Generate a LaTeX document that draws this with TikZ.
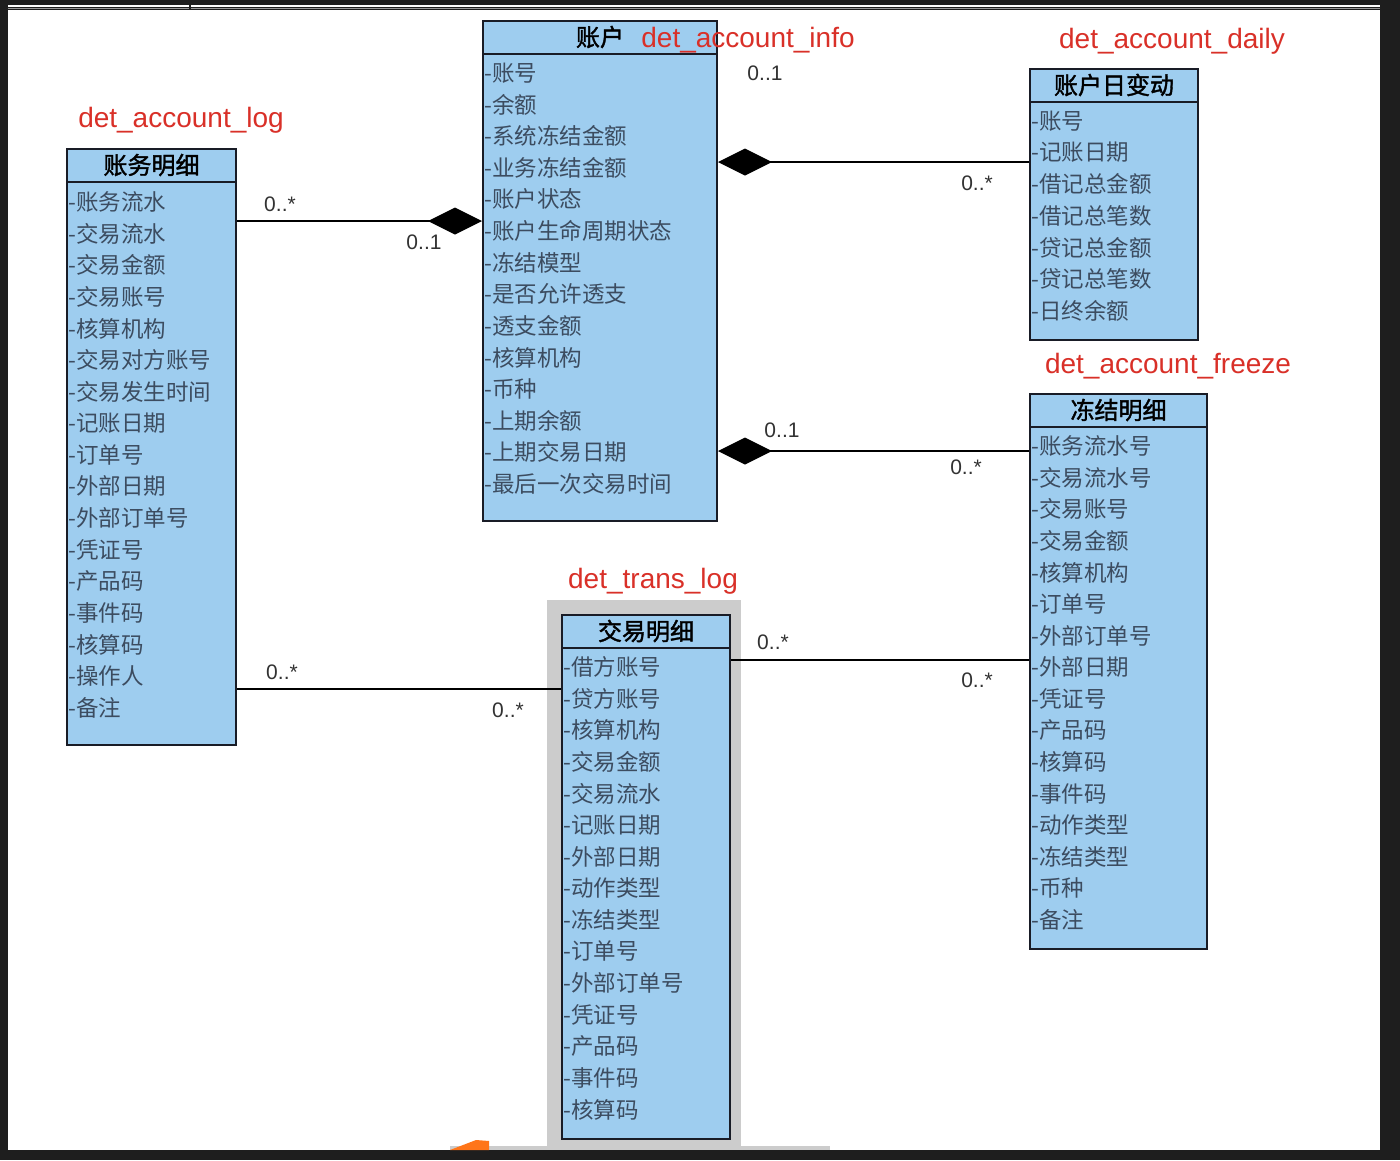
\documentclass[tikz,border=0pt]{standalone}
\usepackage{fontspec}
\setmainfont{Liberation Sans}
\newfontfamily\cjk{Noto Sans CJK SC}
\newfontfamily\cjkbold{Noto Sans CJK SC}[FakeBold=1.6]
\usetikzlibrary{arrows.meta,positioning}
\definecolor{umlfill}{RGB}{158,205,239}
\definecolor{umlline}{RGB}{25,28,38}
\definecolor{attrtext}{RGB}{60,76,96}
\definecolor{tabred}{RGB}{217,48,40}
\definecolor{multgray}{RGB}{50,50,50}
\definecolor{framedark}{RGB}{30,30,30}
\definecolor{shadowgray}{RGB}{204,204,204}
\tikzset{
  classbox/.style={draw=umlline, line width=2pt, fill=umlfill, anchor=north west, inner sep=0pt},
  classline/.style={draw=umlline, line width=2pt},
  classhead/.style={font=\cjkbold\fontsize{24}{24}\selectfont, text=black, inner sep=0pt},
  attr/.style={anchor=west, inner sep=0pt, font=\cjk\fontsize{22.5}{22.5}\selectfont, text=attrtext},
  tablename/.style={font=\fontsize{28}{28}\selectfont, text=tabred, inner sep=0pt},
  mult/.style={font=\fontsize{21}{21}\selectfont, text=multgray, inner sep=0pt},
  assoc/.style={draw=black, line width=1.5pt},
  compo/.style={assoc, {Diamond[length=54pt,width=27pt]}-}
}

\begin{document}
\begin{tikzpicture}[x=1pt,y=-1pt]
% screen frame
\fill[framedark] (0,0) rectangle (1400,1160);
\fill[white] (8,10) rectangle (1380,1150);
\draw[white, line width=1.5pt] (8,6) -- (1380,6);
\draw[gray!80, line width=1.5pt] (8,8.5) -- (1380,8.5);
\draw[framedark, line width=1.5pt] (190,4) -- (190,9);
\useasboundingbox (0,0) rectangle (1400,1160);

% classes
\node[classbox, minimum width=169pt, minimum height=596pt] (log) at (66,148) {};
\node[classbox, minimum width=234pt, minimum height=500pt] (info) at (482,20) {};
\node[classbox, minimum width=168pt, minimum height=271pt] (daily) at (1029,68) {};
\node[classbox, minimum width=177pt, minimum height=555pt] (freeze) at (1029,393) {};
\fill[shadowgray] (547,600) rectangle (741,1150);
\fill[shadowgray] (450,1146) rectangle (830,1150);
\fill[orange!80!red!90] (450,1150) -- (476,1140) -- (489,1141) -- (489,1150) -- cycle;
\node[classbox, minimum width=168pt, minimum height=524pt] (trans) at (561,614) {};

% headers
\foreach \c/\h in {log/账务明细, info/账户, daily/账户日变动, freeze/冻结明细, trans/交易明细} {
  \node[classhead] (\c-head) at ([yshift=-17pt]\c.north) {\h};
  \draw[classline] ([yshift=-34pt]\c.north west) -- ([yshift=-34pt]\c.north east);
}

% attributes
\foreach \f [count=\i from 0] in {账务流水,交易流水,交易金额,交易账号,核算机构,交易对方账号,交易发生时间,记账日期,订单号,外部日期,外部订单号,凭证号,产品码,事件码,核算码,操作人,备注}
  \node[attr] (log-\i) at ([xshift=2pt,yshift={-(54+31.6*\i)}]log.north west) {-\f};
\foreach \f [count=\i from 0] in {账号,余额,系统冻结金额,业务冻结金额,账户状态,账户生命周期状态,冻结模型,是否允许透支,透支金额,核算机构,币种,上期余额,上期交易日期,最后一次交易时间}
  \node[attr] (info-\i) at ([xshift=2pt,yshift={-(53+31.6*\i)}]info.north west) {-\f};
\foreach \f [count=\i from 0] in {账号,记账日期,借记总金额,借记总笔数,贷记总金额,贷记总笔数,日终余额}
  \node[attr] (daily-\i) at ([xshift=2pt,yshift={-(53+31.6*\i)}]daily.north west) {-\f};
\foreach \f [count=\i from 0] in {账务流水号,交易流水号,交易账号,交易金额,核算机构,订单号,外部订单号,外部日期,凭证号,产品码,核算码,事件码,动作类型,冻结类型,币种,备注}
  \node[attr] (freeze-\i) at ([xshift=2pt,yshift={-(53+31.6*\i)}]freeze.north west) {-\f};
\foreach \f [count=\i from 0] in {借方账号,贷方账号,核算机构,交易金额,交易流水,记账日期,外部日期,动作类型,冻结类型,订单号,外部订单号,凭证号,产品码,事件码,核算码}
  \node[attr] (trans-\i) at ([xshift=2pt,yshift={-(53+31.6*\i)}]trans.north west) {-\f};

% table names
\node[tablename] (log-name) at (181,120) {det\_account\_log};
\node[tablename] (info-name) at (748,40) {det\_account\_info};
\node[tablename] (daily-name) at (1172,41) {det\_account\_daily};
\node[tablename] (freeze-name) at (1168,366) {det\_account\_freeze};
\node[tablename] (trans-name) at (653,581) {det\_trans\_log};

% associations
\draw[compo] ([yshift=-201pt]info.north west) -- ([yshift=-73pt]log.north east);
\draw[compo] ([yshift=-142pt]info.north east) -- ([yshift=-94pt]daily.north west);
\draw[compo] ([yshift=-431pt]info.north east) -- ([yshift=-58pt]freeze.north west);
\draw[assoc] ([yshift=-541pt]log.north east) -- ([yshift=-75pt]trans.north west);
\draw[assoc] ([yshift=-46pt]trans.north east) -- ([yshift=-267pt]freeze.north west);

% multiplicities
\node[mult] (m1a) at (280,204) {0..*};
\node[mult] (m1b) at (424,242) {0..1};
\node[mult] (m2a) at (765,73) {0..1};
\node[mult] (m2b) at (977,183) {0..*};
\node[mult] (m3a) at (782,430) {0..1};
\node[mult] (m3b) at (966,467) {0..*};
\node[mult] (m4a) at (282,672) {0..*};
\node[mult] (m4b) at (508,710) {0..*};
\node[mult] (m5a) at (773,642) {0..*};
\node[mult] (m5b) at (977,680) {0..*};
\end{tikzpicture}
\end{document}
